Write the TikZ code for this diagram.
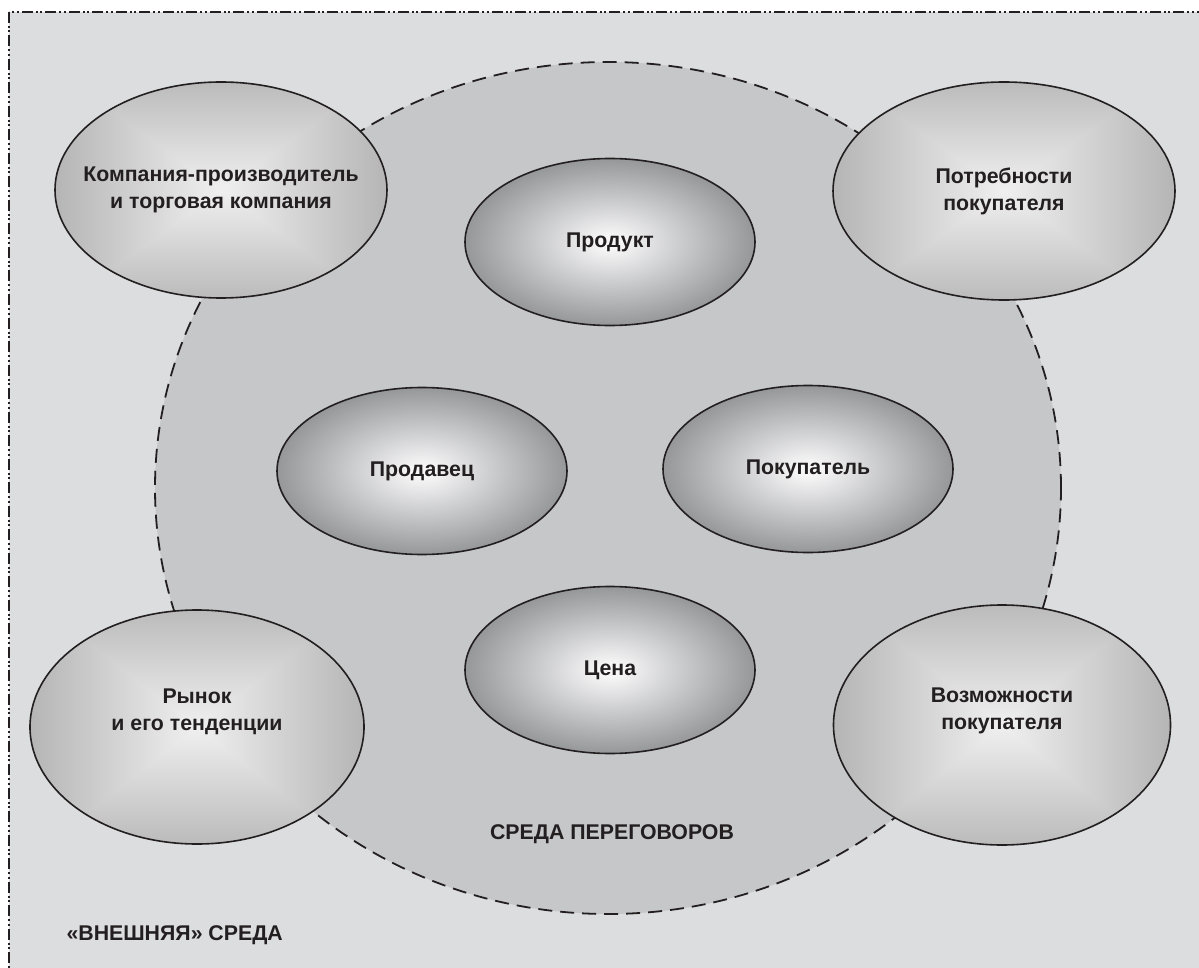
\documentclass[tikz,border=0pt]{standalone}
\usepackage{fontspec}
\setmainfont{Liberation Sans}
\usetikzlibrary{shapes.geometric}

\definecolor{ink}{RGB}{35,31,32}
\definecolor{outerbg}{RGB}{220,221,223}
\definecolor{midbg}{RGB}{198,199,201}
\definecolor{glowcore}{RGB}{246,246,247}
\definecolor{glowedge}{RGB}{150,151,153}

% soft centre-lit fill for the inner bubbles
\pgfdeclareradialshading{innerglow}{\pgfpointorigin}{%
  color(0bp)=(glowcore); color(2bp)=(glowcore);
  color(25bp)=(glowedge); color(50bp)=(glowedge)}

% square-type gradient for the outer bubbles (lighter along the diagonals)
\pgfdeclarefunctionalshading{squareglow}{\pgfpoint{-25bp}{-25bp}}{\pgfpoint{25bp}{25bp}}{}{%
  abs 0.9 mul exch abs 2 copy lt {exch} if pop 25 div -0.23 mul 0.94 add dup dup}

\tikzset{
  lbl/.style={font=\fontsize{21.3}{27}\selectfont\bfseries, text=ink, align=center},
  bubble/.style={ellipse, draw=ink, line width=1.6pt, inner sep=0pt},
  outerbub/.style={bubble, shading=squareglow},
  innerbub/.style={bubble, shading=innerglow, minimum width=290, minimum height=167},
  framebox/.style={fill=outerbg, draw=ink, line width=1.8pt,
    dash pattern=on 11pt off 3pt on 2pt off 2.5pt on 2pt off 3pt},
  zone/.style={ellipse, fill=midbg, draw=ink, line width=1.8pt,
    dash pattern=on 14pt off 8pt, inner sep=0pt}
}

\begin{document}
\begin{tikzpicture}[x=1pt,y=-1pt]
  \useasboundingbox (0,0) rectangle (1199,968);
  \clip (0,0) rectangle (1199,968);
  \fill[white] (0,0) rectangle (1199,968);

  % outer environment frame
  \path[framebox] (9,12) rectangle (1230,1000);

  % negotiation zone
  \node[zone, minimum width=906, minimum height=852] (zone) at (608,488) {};

  % outer factors
  \node[outerbub, minimum width=332, minimum height=216] (maker) at (221,190) {};
  \node[outerbub, minimum width=342, minimum height=218] (needs) at (1004,191) {};
  \node[outerbub, minimum width=334, minimum height=234] (market) at (197,727) {};
  \node[outerbub, minimum width=337, minimum height=240] (means) at (1002,725) {};

  \node[lbl] (maker-t) at (maker) {Компания-производитель\\и торговая компания};
  \node[lbl] (needs-t) at (needs) {Потребности\\покупателя};
  \node[lbl] (market-t) at (197,712) {Рынок\\и его тенденции};
  \node[lbl] (means-t) at (1002,711) {Возможности\\покупателя};

  % parties and terms
  \node[innerbub] (product) at (610,242) {};
  \node[innerbub] (seller) at (422,471) {};
  \node[innerbub] (buyer) at (808,469) {};
  \node[innerbub] (price) at (610,670) {};

  \node[lbl] (product-t) at (product) {Продукт};
  \node[lbl] (seller-t) at (seller) {Продавец};
  \node[lbl] (buyer-t) at (buyer) {Покупатель};
  \node[lbl] (price-t) at (price) {Цена};

  % zone captions
  \node[lbl] (zonecap) at (612,834) {СРЕДА ПЕРЕГОВОРОВ};
  \node[lbl, anchor=west] (outcap) at (63,935) {«ВНЕШНЯЯ» СРЕДА};
\end{tikzpicture}
\end{document}
